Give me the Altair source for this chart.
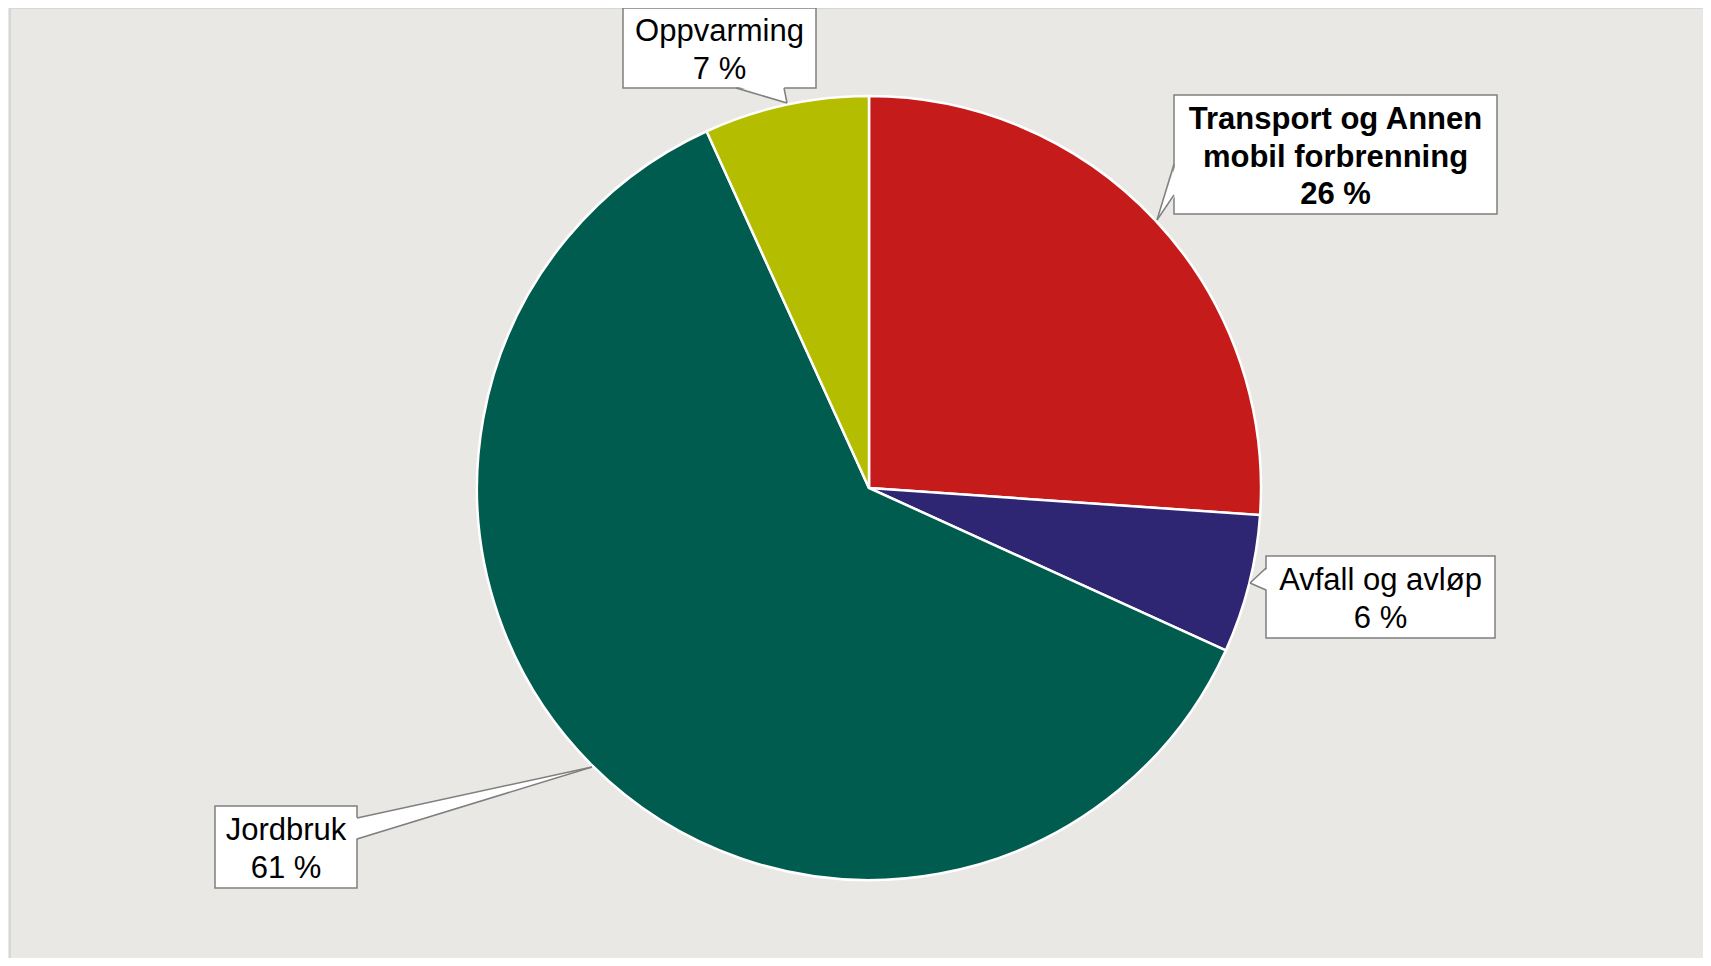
import altair as alt
import pandas as pd

# ---- data ----
categories = ["Transport og Annen mobil forbrenning", "Avfall og avløp", "Jordbruk", "Oppvarming"]
shares = [26.1, 5.7, 61.4, 6.8]
colors = ["#C51B1B", "#2E2672", "#005C4F", "#B5BD00"]
label_lines = [["Transport og Annen", "mobil forbrenning"], ["Avfall og avløp"], ["Jordbruk"], ["Oppvarming"]]
bold = [True, False, False, False]

# ---- layout (pixel positions of callouts, chart coords) ----
W, H = 1695, 950
CX, CY, R = 861, 480, 392
FONT = "Liberation Sans"
FS = 31
LH = 37.5
boxes = {  # x1, y1, x2, y2
    "Transport og Annen mobil forbrenning": (1166, 87, 1489, 206),
    "Avfall og avløp": (1258, 548, 1487, 630),
    "Jordbruk": (207, 798, 349, 880),
    "Oppvarming": (615, 0, 808, 80),
}
text_top = {  # y of first line centre
    "Transport og Annen mobil forbrenning": 112,
    "Avfall og avløp": 573,
    "Jordbruk": 823,
    "Oppvarming": 24,
}
# pointers: (orient, base a, base b, base fixed coord, tip x, tip y)
pointers = {
    "Transport og Annen mobil forbrenning": ("v", 156, 187, 1166, 1149, 212),
    "Avfall og avløp": ("v", 560, 582, 1258, 1242, 575),
    "Jordbruk": ("v", 810, 831, 349, 584, 759),
    "Oppvarming": ("h", 728, 776, 80, 779, 95),
}

pie_df = pd.DataFrame({"cat": categories, "share": shares, "order": list(range(len(categories)))})

pie = alt.Chart(pie_df).mark_arc(radius=R, stroke="white", strokeWidth=2.5).encode(
    theta=alt.Theta("share:Q", stack=True),
    order=alt.Order("order:Q"),
    color=alt.Color("cat:N", scale=alt.Scale(domain=categories, range=colors), legend=None),
    x=alt.value(CX),
    y=alt.value(CY),
)

# boxes
box_rows = []
for c in categories:
    x1, y1, x2, y2 = boxes[c]
    box_rows.append({"cat": c, "x1": x1, "y1": y1, "x2": x2, "y2": y2})
box_df = pd.DataFrame(box_rows)
box_layer = alt.Chart(box_df).mark_rect(fill="white", stroke="#7F7F7F", strokeWidth=1.5).encode(
    x=alt.X("x1:Q", scale=None, axis=None),
    x2="x2:Q",
    y=alt.Y("y1:Q", scale=None, axis=None),
    y2="y2:Q",
)

# pointer fills
v_rows, h_rows, edge_rows = [], [], []
for c in categories:
    o, a, b, f, tx, ty = pointers[c]
    if o == "v":
        inside = f + (2 if tx < f else -2)
        v_rows.append({"cat": c, "px": tx, "py": ty, "py2": ty})
        v_rows.append({"cat": c, "px": inside, "py": a, "py2": b})
        edge_rows.append({"x": tx, "y": ty, "x2": f, "y2": a})
        edge_rows.append({"x": tx, "y": ty, "x2": f, "y2": b})
    else:
        inside = f + (2 if ty < f else -2)
        h_rows.append({"cat": c, "py": inside, "px": a, "px2": b})
        h_rows.append({"cat": c, "py": ty, "px": tx, "px2": tx})
        edge_rows.append({"x": tx, "y": ty, "x2": a, "y2": f})
        edge_rows.append({"x": tx, "y": ty, "x2": b, "y2": f})

v_layer = alt.Chart(pd.DataFrame(v_rows)).mark_area(fill="white", orient="vertical").encode(
    x=alt.X("px:Q", scale=None, axis=None),
    y=alt.Y("py:Q", scale=None, axis=None),
    y2="py2:Q",
    detail="cat:N",
)
h_layer = alt.Chart(pd.DataFrame(h_rows)).mark_area(fill="white", orient="horizontal").encode(
    y=alt.Y("py:Q", scale=None, axis=None),
    x=alt.X("px:Q", scale=None, axis=None),
    x2="px2:Q",
    detail="cat:N",
)
edge_layer = alt.Chart(pd.DataFrame(edge_rows)).mark_rule(color="#7F7F7F", strokeWidth=1.5).encode(
    x=alt.X("x:Q", scale=None, axis=None),
    y=alt.Y("y:Q", scale=None, axis=None),
    x2="x2:Q",
    y2="y2:Q",
)

# text
text_rows = []
for c, s, lines, b in zip(categories, shares, label_lines, bold):
    x1, y1, x2, y2 = boxes[c]
    cx = (x1 + x2) / 2
    allines = lines + [f"{round(s)} %"]
    for i, t in enumerate(allines):
        text_rows.append({"x": cx, "y": text_top[c] + i * LH, "t": t, "bold": b})
text_df = pd.DataFrame(text_rows)
text_normal = alt.Chart(text_df).transform_filter("!datum.bold").mark_text(
    font=FONT, fontSize=FS, color="black", align="center", baseline="middle"
).encode(x=alt.X("x:Q", scale=None, axis=None), y=alt.Y("y:Q", scale=None, axis=None), text="t:N")
text_bold = alt.Chart(text_df).transform_filter("datum.bold").mark_text(
    font=FONT, fontSize=FS, fontWeight="bold", color="black", align="center", baseline="middle"
).encode(x=alt.X("x:Q", scale=None, axis=None), y=alt.Y("y:Q", scale=None, axis=None), text="t:N")

# frame lines
frame = alt.Chart(pd.DataFrame({"x": [2, 2], "y": [0, 0], "x2": [2, W], "y2": [H, 0]})).mark_rule(
    color="#D6D6D6", strokeWidth=2
).encode(
    x=alt.X("x:Q", scale=None, axis=None),
    y=alt.Y("y:Q", scale=None, axis=None),
    x2="x2:Q",
    y2="y2:Q",
)

chart = alt.layer(frame, pie, box_layer, v_layer, h_layer, edge_layer, text_normal, text_bold).properties(
    width=W, height=H, background="#EAE8E4", padding=0, autosize=alt.AutoSizeParams(type="none")
).configure_view(stroke=None)

chart.save("out.html", embed_options={"renderer": "svg", "actions": False})
